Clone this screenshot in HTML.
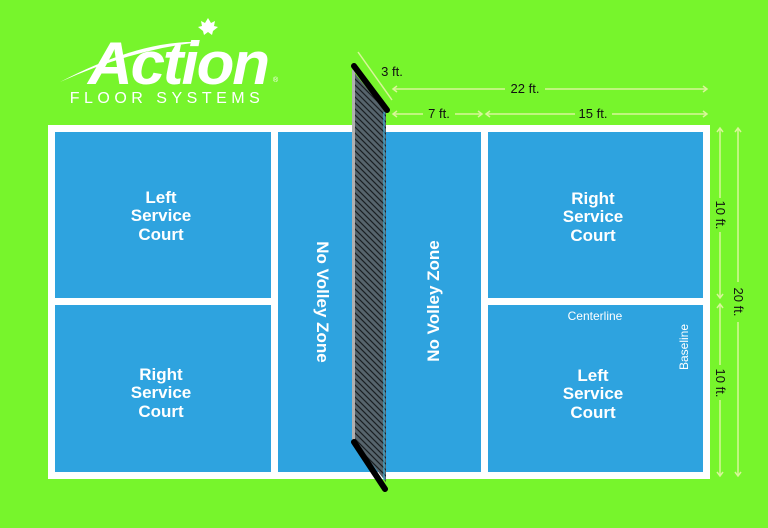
<!DOCTYPE html>
<html><head><meta charset="utf-8"><style>
html,body{margin:0;padding:0;background:#77f52c;}
svg{display:block}
text{font-family:"Liberation Sans",sans-serif;}
</style></head><body>
<svg width="768" height="528" viewBox="0 0 768 528" xmlns="http://www.w3.org/2000/svg">
<defs>
<pattern id="mesh" width="6" height="6" patternUnits="userSpaceOnUse">
<rect width="6" height="6" fill="#56646c"/>
<path d="M0 0 L6 6 M-3 3 L3 9 M3 -3 L9 3" stroke="#1a1f22" stroke-width="1.2"/>
</pattern>
</defs>
<rect width="768" height="528" fill="#77f52c"/>
<!-- logo -->
<text x="88" y="84" font-size="60" font-weight="bold" font-style="italic" fill="#fff" textLength="180" lengthAdjust="spacingAndGlyphs" letter-spacing="-2">Action</text>
<path d="M60 82 Q140 40 200 42 Q130 50 60 82Z" fill="#fff"/>
<path d="M205 23 l3 -5 l3 5 l4 -2 l-1 5 l4 1 l-5 4 l-1 4 l-4 -3 l-4 3 l-1-4 l-5-4 l4-1 l-1-5z" fill="#fff"/>
<text x="273" y="82" font-size="7" fill="#fff">®</text>
<text x="167" y="103" font-size="16" fill="#fff" text-anchor="middle" letter-spacing="4.5">FLOOR SYSTEMS</text>
<!-- court -->
<rect x="48" y="125" width="662" height="354" fill="#fff"/>
<rect x="55" y="132" width="216" height="166" fill="#2ea3df"/>
<rect x="55" y="305" width="216" height="167" fill="#2ea3df"/>
<rect x="278" y="132" width="203" height="340" fill="#2ea3df"/>
<rect x="488" y="132" width="215" height="166" fill="#2ea3df"/>
<rect x="488" y="305" width="215" height="167" fill="#2ea3df"/>
<!-- texts -->
<g fill="#fff" font-weight="bold" font-size="17" text-anchor="middle">
<text x="161" y="203">Left</text><text x="161" y="221">Service</text><text x="161" y="240">Court</text>
<text x="161" y="380">Right</text><text x="161" y="398">Service</text><text x="161" y="417">Court</text>
<text x="593" y="204">Right</text><text x="593" y="222">Service</text><text x="593" y="241">Court</text>
<text x="593" y="381">Left</text><text x="593" y="399">Service</text><text x="593" y="418">Court</text>
<text transform="translate(317,302) rotate(90)">No Volley Zone</text>
<text transform="translate(439,301) rotate(-90)">No Volley Zone</text>
</g>
<text x="595" y="320" font-size="12" fill="#fff" text-anchor="middle">Centerline</text>
<text transform="translate(688,347) rotate(-90)" font-size="12" fill="#fff" text-anchor="middle">Baseline</text>
<!-- net -->
<polygon points="352,70 386,112 386,482 352,438" fill="url(#mesh)"/>
<rect x="352" y="70" width="3" height="370" fill="#b0b0b0"/>
<line x1="384" y1="112" x2="384" y2="480" stroke="#3cc0f0" stroke-width="1"/>
<line x1="354" y1="66" x2="387" y2="110" stroke="#000" stroke-width="6" stroke-linecap="round"/>
<line x1="354" y1="442" x2="385" y2="489" stroke="#000" stroke-width="6" stroke-linecap="round"/>
<!-- dimension lines -->
<g stroke="#d9f59a" stroke-width="1.5" fill="none">
<line x1="358" y1="52" x2="392" y2="100"/>
<line x1="393" y1="89" x2="505" y2="89"/><line x1="545" y1="89" x2="707" y2="89"/>
<line x1="393" y1="114" x2="423" y2="114"/><line x1="455" y1="114" x2="482" y2="114"/>
<line x1="486" y1="114" x2="575" y2="114"/><line x1="612" y1="114" x2="707" y2="114"/>
<line x1="720" y1="128" x2="720" y2="198"/><line x1="720" y1="232" x2="720" y2="298"/>
<line x1="720" y1="304" x2="720" y2="365"/><line x1="720" y1="400" x2="720" y2="476"/>
<line x1="738" y1="128" x2="738" y2="282"/><line x1="738" y1="322" x2="738" y2="476"/>
<path d="M397 86 l-4 3 l4 3 M703 86 l4 3 l-4 3 M397 111 l-4 3 l4 3 M478 111 l4 3 l-4 3 M490 111 l-4 3 l4 3 M703 111 l4 3 l-4 3"/>
<path d="M717 132 l3 -4 l3 4 M717 294 l3 4 l3 -4 M717 308 l3 -4 l3 4 M717 472 l3 4 l3 -4 M735 132 l3 -4 l3 4 M735 472 l3 4 l3 -4"/>
</g>
<g font-size="13" fill="#111" text-anchor="middle">
<text x="392" y="76">3 ft.</text>
<text x="525" y="93">22 ft.</text>
<text x="439" y="118">7 ft.</text>
<text x="593" y="118">15 ft.</text>
<text transform="translate(716,215) rotate(90)">10 ft.</text>
<text transform="translate(734,302) rotate(90)">20 ft.</text>
<text transform="translate(716,383) rotate(90)">10 ft.</text>
</g>
</svg>
</body></html>
